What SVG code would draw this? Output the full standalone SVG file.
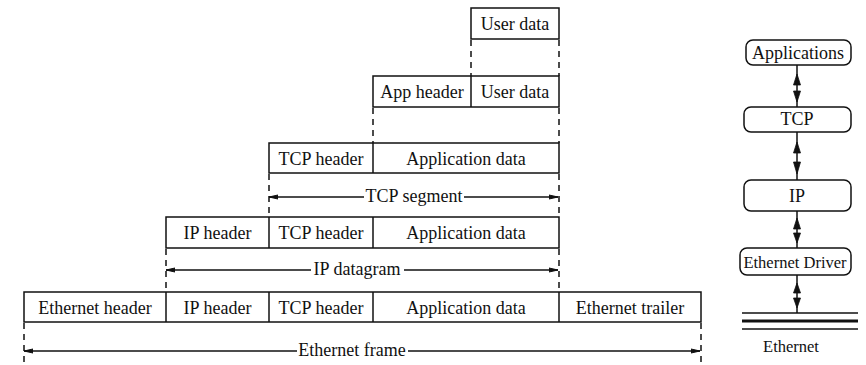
<svg xmlns="http://www.w3.org/2000/svg" width="866" height="365" viewBox="0 0 866 365" font-family="Liberation Serif, serif">
  <style>
    .box { fill: #fff; stroke: #111; stroke-width: 1.5; }
    .div { stroke: #111; stroke-width: 1.5; }
    .dash { stroke: #111; stroke-width: 1.5; stroke-dasharray: 6 5; fill: none; }
    .span { stroke: #111; stroke-width: 1.3; fill: none; }
    .lbl { font-size: 18px; fill: #111; text-anchor: middle; }
    .layer { fill: #fff; stroke: #111; stroke-width: 1.5; }
    .head { fill: #111; stroke: #111; stroke-width: 0.8; stroke-linejoin: miter; }
    .wire { stroke: #111; fill: none; }
  </style>
  <defs>
    <marker id="tip" viewBox="0 0 10 6" refX="9" refY="3" markerWidth="10" markerHeight="6" markerUnits="userSpaceOnUse" orient="auto-start-reverse">
      <path d="M0,1 L9,3 L0,5 Z" fill="#111" stroke="#111" stroke-width="1"/>
    </marker>
  </defs>
  <rect width="866" height="365" fill="#fff"/>

  <!-- encapsulation rows -->
  <g id="row-user">
    <rect class="box" x="471" y="8" width="88" height="31"/>
    <text class="lbl" x="515" y="30">User data</text>
  </g>
  <g id="row-app">
    <rect class="box" x="373" y="76" width="186" height="31"/>
    <line class="div" x1="471" y1="76" x2="471" y2="107"/>
    <text class="lbl" x="422" y="98">App header</text>
    <text class="lbl" x="515" y="98">User data</text>
  </g>
  <g id="row-tcp">
    <rect class="box" x="269" y="143" width="290" height="30"/>
    <line class="div" x1="373" y1="143" x2="373" y2="173"/>
    <text class="lbl" x="321" y="165">TCP header</text>
    <text class="lbl" x="466" y="165">Application data</text>
  </g>
  <g id="row-ip">
    <rect class="box" x="166" y="217" width="393" height="31"/>
    <line class="div" x1="269" y1="217" x2="269" y2="248"/>
    <line class="div" x1="373" y1="217" x2="373" y2="248"/>
    <text class="lbl" x="217.5" y="239">IP header</text>
    <text class="lbl" x="321" y="239">TCP header</text>
    <text class="lbl" x="466" y="239">Application data</text>
  </g>
  <g id="row-eth">
    <rect class="box" x="24" y="292" width="677" height="30"/>
    <line class="div" x1="166" y1="292" x2="166" y2="322"/>
    <line class="div" x1="269" y1="292" x2="269" y2="322"/>
    <line class="div" x1="373" y1="292" x2="373" y2="322"/>
    <line class="div" x1="559" y1="292" x2="559" y2="322"/>
    <text class="lbl" x="95" y="314">Ethernet header</text>
    <text class="lbl" x="217.5" y="314">IP header</text>
    <text class="lbl" x="321" y="314">TCP header</text>
    <text class="lbl" x="466" y="314">Application data</text>
    <text class="lbl" x="630" y="314">Ethernet trailer</text>
  </g>

  <!-- extent guides and span arrows -->
  <g id="connectors">
    <path class="dash" d="M471,40 V76 M559,40 V76"/>
    <path class="dash" d="M373,108 V143 M559,108 V143"/>
    <path class="dash" d="M269,174 V217 M559,174 V217"/>
    <path class="dash" d="M166,249 V292 M559,249 V292"/>
    <path class="dash" d="M24,323 V365 M701,323 V365"/>

    <line class="span" x1="269" y1="197" x2="364" y2="197" marker-start="url(#tip)"/>
    <line class="span" x1="464" y1="197" x2="558" y2="197" marker-end="url(#tip)"/>
    <text class="lbl" x="414" y="202">TCP segment</text>

    <line class="span" x1="166" y1="270" x2="311" y2="270" marker-start="url(#tip)"/>
    <line class="span" x1="404" y1="270" x2="558" y2="270" marker-end="url(#tip)"/>
    <text class="lbl" x="357" y="275">IP datagram</text>

    <line class="span" x1="24" y1="351" x2="297" y2="351" marker-start="url(#tip)"/>
    <line class="span" x1="408" y1="351" x2="700" y2="351" marker-end="url(#tip)"/>
    <text class="lbl" x="352" y="356">Ethernet frame</text>

    <!-- protocol stack links: one up and one down head on each link -->
    <g id="stack-links">
      <line class="wire" stroke-width="1.5" x1="797" y1="65" x2="797" y2="107"/>
      <path class="head" d="M797,74 L800.5,85 L793.5,85 Z M797,102 L800.5,91 L793.5,91 Z"/>
      <line class="wire" stroke-width="1.5" x1="797" y1="132" x2="797" y2="180"/>
      <path class="head" d="M797,142 L800.5,153 L793.5,153 Z M797,174 L800.5,162 L793.5,162 Z"/>
      <line class="wire" stroke-width="1.5" x1="797" y1="211" x2="797" y2="248"/>
      <path class="head" d="M797,218 L800.5,229 L793.5,229 Z M797,243 L800.5,233 L793.5,233 Z"/>
      <line class="wire" stroke-width="1.5" x1="797" y1="275" x2="797" y2="313"/>
      <path class="head" d="M797,283 L800.5,293 L793.5,293 Z M797,308 L800.5,298 L793.5,298 Z"/>
    </g>
  </g>

  <!-- protocol stack -->
  <g id="applications">
    <rect class="layer" x="746" y="40" width="105" height="25" rx="7"/>
    <text class="lbl" x="798" y="59" font-size="17.5">Applications</text>
  </g>
  <g id="tcp">
    <rect class="layer" x="744" y="107" width="107" height="25" rx="7"/>
    <text class="lbl" x="797" y="125" font-size="17">TCP</text>
  </g>
  <g id="ip">
    <rect class="layer" x="744" y="180" width="107" height="31" rx="7"/>
    <text class="lbl" x="797" y="202" font-size="17">IP</text>
  </g>
  <g id="ethernet-driver">
    <rect class="layer" x="740" y="248" width="111" height="27" rx="7"/>
    <text class="lbl" x="795" y="268" style="font-size:16.5px">Ethernet Driver</text>
  </g>
  <g id="ethernet">
    <line class="wire" stroke-width="1.5" x1="742" y1="313" x2="858" y2="313"/>
    <line class="wire" stroke-width="3" x1="742" y1="321" x2="858" y2="321"/>
    <line class="wire" stroke-width="1.5" x1="742" y1="329" x2="858" y2="329"/>
    <text class="lbl" x="791" y="352" style="font-size:16.5px">Ethernet</text>
  </g>
</svg>
